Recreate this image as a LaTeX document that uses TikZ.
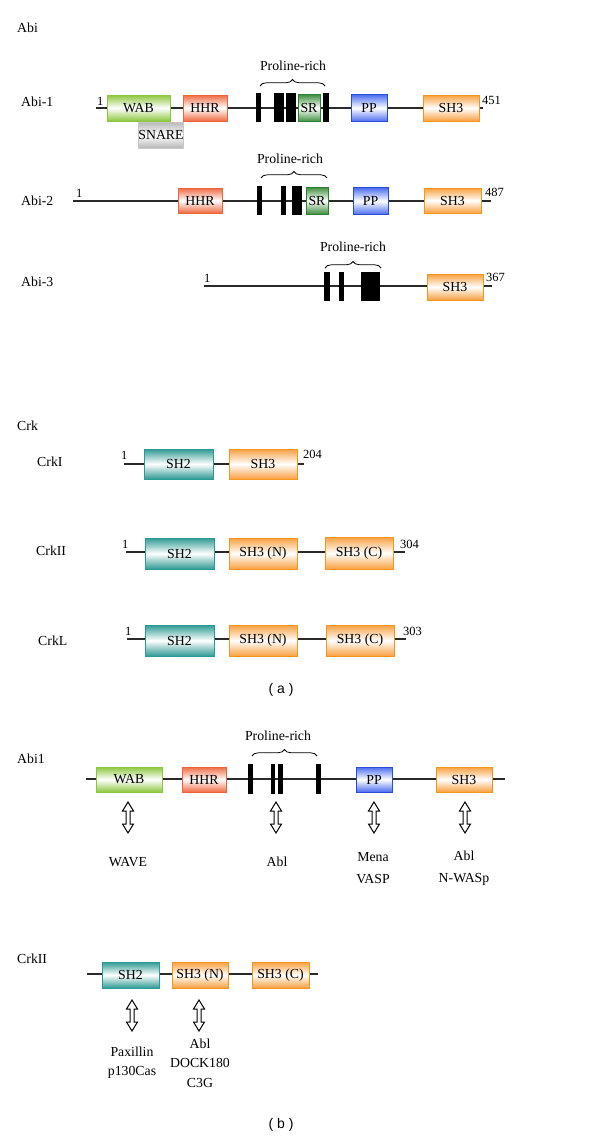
\documentclass[tikz,border=0pt]{standalone}
\usepackage{fontspec}
\setmainfont{Liberation Serif}
\newfontfamily\capsans{Liberation Sans}
\usetikzlibrary{arrows.meta,decorations.pathreplacing}
\definecolor{wabB}{HTML}{8DC63F}
\definecolor{wabF}{HTML}{8DC63F}
\definecolor{hhrB}{HTML}{F0643C}
\definecolor{hhrF}{HTML}{F06A43}
\definecolor{srB}{HTML}{2E7D32}
\definecolor{srF}{HTML}{3E8E3E}
\definecolor{ppB}{HTML}{2B4BD6}
\definecolor{ppF}{HTML}{4A6CF0}
\definecolor{shthB}{HTML}{F7941D}
\definecolor{shthF}{HTML}{F9A040}
\definecolor{shtwB}{HTML}{2A9A96}
\definecolor{shtwF}{HTML}{2F9A94}
\definecolor{snB}{HTML}{C8C8C8}
\definecolor{snF}{HTML}{B8B8B8}
\definecolor{bb}{HTML}{2A2A2A}
\tikzset{
  lbl/.style={font=\fontsize{13.8}{16}\selectfont, inner sep=0pt},
  num/.style={font=\fontsize{12.5}{15}\selectfont, inner sep=0pt, anchor=base west},
  backbone/.style={draw=bb, line width=1.2pt},
  dom/.style={line width=1pt, inner sep=0pt, font=\fontsize{13.8}{16}\selectfont},
  wabbox/.style={dom, draw=wabB, top color=wabF, bottom color=wabF, middle color=white},
  hhrbox/.style={dom, draw=hhrB, top color=hhrF, bottom color=hhrF, middle color=white},
  srbox/.style={dom, draw=srB, top color=srF, bottom color=srF, middle color=white},
  ppbox/.style={dom, draw=ppB, top color=ppF, bottom color=ppF, middle color=white},
  shthbox/.style={dom, draw=shthB, top color=shthF, bottom color=shthF, middle color=white},
  shtwbox/.style={dom, draw=shtwB, top color=shtwF, bottom color=shtwF, middle color=white},
  snbox/.style={dom, draw=snB, top color=snF, bottom color=snF, middle color=white},
  bar/.style={fill=black, draw=none, inner sep=0pt},
  brc/.style={decorate, decoration={brace, amplitude=6.5pt}, line width=0.8pt},
  hollow/.style={draw=black, fill=white, line width=1pt, line join=miter},
  multi/.style={align=center, inner sep=0pt},
}
\newcommand{\hollowarrow}[1]{%
  \draw[hollow] (#1) -- ++(5.5,9) -- ++(-3.5,0) -- ++(0,13) -- ++(3.5,0) -- ++(-5.5,9)
    -- ++(-5.5,-9) -- ++(3.5,0) -- ++(0,-13) -- ++(-3.5,0) -- cycle;}
\begin{document}
\begin{tikzpicture}[x=1pt, y=-1pt]
\useasboundingbox (0,0) rectangle (600,1141);

% ---------------- Abi ----------------
\node[lbl, anchor=west] (abi) at (17,28) {Abi};

% Abi-1
\node[lbl, anchor=west] (abi1lbl) at (21,102) {Abi-1};
\coordinate (r1s) at (96,108);
\coordinate (r1e) at (483,108);
\draw[backbone] (r1s) -- (r1e);
\node[num] (r1n1) at (97,105) {1};
\node[num] (r1n2) at (482,104) {451};
\node[wabbox, minimum width=63pt, minimum height=26pt] (r1wab) at (138.5,108) {WAB};
\node[snbox, minimum width=44pt, minimum height=26pt] (r1sn) at (161,135) {SNARE};
\node[hhrbox, minimum width=44pt, minimum height=26pt] (r1hhr) at (205,108) {HHR};
\node[bar, minimum width=5pt, minimum height=29pt] (r1b1) at (258.5,107.5) {};
\node[bar, minimum width=10pt, minimum height=29pt] (r1b2) at (279,107.5) {};
\node[bar, minimum width=10pt, minimum height=29pt] (r1b3) at (290.5,107.5) {};
\node[srbox, minimum width=22pt, minimum height=27pt] (r1sr) at (309,108) {SR};
\node[bar, minimum width=6pt, minimum height=29pt] (r1b4) at (326,107.5) {};
\node[ppbox, minimum width=36pt, minimum height=27pt] (r1pp) at (369,108) {PP};
\node[shthbox, minimum width=56pt, minimum height=26pt] (r1sh3) at (451,108) {SH3};
\coordinate (r1bl) at (260,86);
\coordinate (r1br) at (325,86);
\draw[brc] (r1bl) -- (r1br);
\node[lbl] (r1pro) at (293,66) {Proline-rich};

% Abi-2
\node[lbl, anchor=west] (abi2lbl) at (21,201) {Abi-2};
\coordinate (r2s) at (73,201);
\coordinate (r2e) at (491,201);
\draw[backbone] (r2s) -- (r2e);
\node[num] (r2n1) at (76,197) {1};
\node[num] (r2n2) at (485,196) {487};
\node[hhrbox, minimum width=44pt, minimum height=25pt] (r2hhr) at (200,200.5) {HHR};
\node[bar, minimum width=5pt, minimum height=29pt] (r2b1) at (259.5,200.5) {};
\node[bar, minimum width=5pt, minimum height=29pt] (r2b2) at (283.5,200.5) {};
\node[bar, minimum width=10pt, minimum height=29pt] (r2b3) at (297,200.5) {};
\node[srbox, minimum width=22pt, minimum height=27pt] (r2sr) at (317,200.5) {SR};
\node[ppbox, minimum width=35pt, minimum height=27pt] (r2pp) at (370.5,201) {PP};
\node[shthbox, minimum width=57pt, minimum height=25pt] (r2sh3) at (452.5,200.5) {SH3};
\coordinate (r2bl) at (261,178);
\coordinate (r2br) at (327,178);
\draw[brc] (r2bl) -- (r2br);
\node[lbl] (r2pro) at (290,159) {Proline-rich};

% Abi-3
\node[lbl, anchor=west] (abi3lbl) at (21,282) {Abi-3};
\coordinate (r3s) at (204,286);
\coordinate (r3e) at (492,286);
\draw[backbone] (r3s) -- (r3e);
\node[num] (r3n1) at (204,282) {1};
\node[num] (r3n2) at (486,281) {367};
\node[bar, minimum width=6pt, minimum height=29pt] (r3b1) at (327,286.5) {};
\node[bar, minimum width=5pt, minimum height=29pt] (r3b2) at (341.5,286.5) {};
\node[bar, minimum width=19pt, minimum height=29pt] (r3b3) at (370.5,286.5) {};
\node[shthbox, minimum width=56pt, minimum height=26pt] (r3sh3) at (455,287) {SH3};
\coordinate (r3bl) at (325,268);
\coordinate (r3br) at (381,268);
\draw[brc] (r3bl) -- (r3br);
\node[lbl] (r3pro) at (353,247) {Proline-rich};

% ---------------- Crk ----------------
\node[lbl, anchor=west] (crk) at (17,426) {Crk};

% CrkI
\node[lbl, anchor=west] (c1lbl) at (37,462) {CrkI};
\coordinate (c1s) at (124,464);
\coordinate (c1e) at (304,464);
\draw[backbone] (c1s) -- (c1e);
\node[num] (c1n1) at (121,459) {1};
\node[num] (c1n2) at (303,458) {204};
\node[shtwbox, minimum width=69pt, minimum height=30pt] (c1sh2) at (178.5,464) {SH2};
\node[shthbox, minimum width=68pt, minimum height=30pt] (c1sh3) at (263,464) {SH3};

% CrkII
\node[lbl, anchor=west] (c2lbl) at (36,551) {CrkII};
\coordinate (c2s) at (126,552);
\coordinate (c2e) at (405,552);
\draw[backbone] (c2s) -- (c2e);
\node[num] (c2n1) at (122,548) {1};
\node[num] (c2n2) at (400,548) {304};
\node[shtwbox, minimum width=69pt, minimum height=31pt] (c2sh2) at (179.5,553.5) {SH2};
\node[shthbox, minimum width=68pt, minimum height=31pt] (c2sh3n) at (263,553.5) {SH3 (N)};
\node[shthbox, minimum width=68pt, minimum height=32pt] (c2sh3c) at (359,553) {SH3 (C)};

% CrkL
\node[lbl, anchor=west] (c3lbl) at (38,641) {CrkL};
\coordinate (c3s) at (127,639);
\coordinate (c3e) at (406,639);
\draw[backbone] (c3s) -- (c3e);
\node[num] (c3n1) at (125,635) {1};
\node[num] (c3n2) at (403,635) {303};
\node[shtwbox, minimum width=69pt, minimum height=31pt] (c3sh2) at (179.5,640.5) {SH2};
\node[shthbox, minimum width=68pt, minimum height=31pt] (c3sh3n) at (263,640.5) {SH3 (N)};
\node[shthbox, minimum width=68pt, minimum height=31pt] (c3sh3c) at (360,640.5) {SH3 (C)};

\node[font=\capsans\fontsize{14}{16}\selectfont, inner sep=0pt] (capa) at (281,690) {( a )};

% ---------------- Abi1 interactions ----------------
\node[lbl, anchor=west] (abi1b) at (17,759) {Abi1};
\coordinate (b1s) at (86,779);
\coordinate (b1e) at (505,779);
\draw[backbone] (b1s) -- (b1e);
\node[wabbox, minimum width=66pt, minimum height=25pt] (bwab) at (129,779.5) {WAB};
\node[hhrbox, minimum width=44pt, minimum height=25pt] (bhhr) at (204,779.5) {HHR};
\node[bar, minimum width=5pt, minimum height=30pt] (bb1) at (250.5,779) {};
\node[bar, minimum width=4.5pt, minimum height=30pt] (bb2) at (273.2,779) {};
\node[bar, minimum width=5pt, minimum height=30pt] (bb3) at (280.5,779) {};
\node[bar, minimum width=5pt, minimum height=30pt] (bb4) at (318.5,779) {};
\node[ppbox, minimum width=36pt, minimum height=25pt] (bpp) at (374,779.5) {PP};
\node[shthbox, minimum width=56pt, minimum height=25pt] (bsh3) at (464,779.5) {SH3};
\coordinate (bbl) at (252,756);
\coordinate (bbr) at (317,756);
\draw[brc] (bbl) -- (bbr);
\node[lbl] (bpro) at (278,736) {Proline-rich};

\coordinate (a1t) at (128,802);
\coordinate (a2t) at (276,802);
\coordinate (a3t) at (374,802);
\coordinate (a4t) at (465,802);
\hollowarrow{a1t}
\hollowarrow{a2t}
\hollowarrow{a3t}
\hollowarrow{a4t}
\node[lbl] (iwave) at (128,862) {WAVE};
\node[lbl] (iabl) at (277,862) {Abl};
\node[multi, font=\fontsize{13.8}{22}\selectfont] (imena) at (373,868) {Mena\\VASP};
\node[multi, font=\fontsize{13.8}{22}\selectfont] (iabl2) at (464,868) {Abl\\N-WASp};

% ---------------- CrkII interactions ----------------
\node[lbl, anchor=west] (crk2b) at (17,959) {CrkII};
\coordinate (d1s) at (87,974);
\coordinate (d1e) at (318,974);
\draw[backbone] (d1s) -- (d1e);
\node[shtwbox, minimum width=57pt, minimum height=26pt] (dsh2) at (130.5,975) {SH2};
\node[shthbox, minimum width=56pt, minimum height=26pt] (dsh3n) at (200,975) {SH3 (N)};
\node[shthbox, minimum width=57pt, minimum height=26pt] (dsh3c) at (280.5,975) {SH3 (C)};
\coordinate (e1t) at (132,1000);
\coordinate (e2t) at (199,1000);
\hollowarrow{e1t}
\hollowarrow{e2t}
\node[multi, font=\fontsize{13.8}{19}\selectfont] (ipax) at (132,1063) {Paxillin\\p130Cas};
\node[multi, font=\fontsize{13.8}{19.5}\selectfont] (idock) at (200,1063) {Abl\\DOCK180\\C3G};

\node[font=\capsans\fontsize{14}{16}\selectfont, inner sep=0pt] (capb) at (281,1125) {( b )};
\end{tikzpicture}
\end{document}
